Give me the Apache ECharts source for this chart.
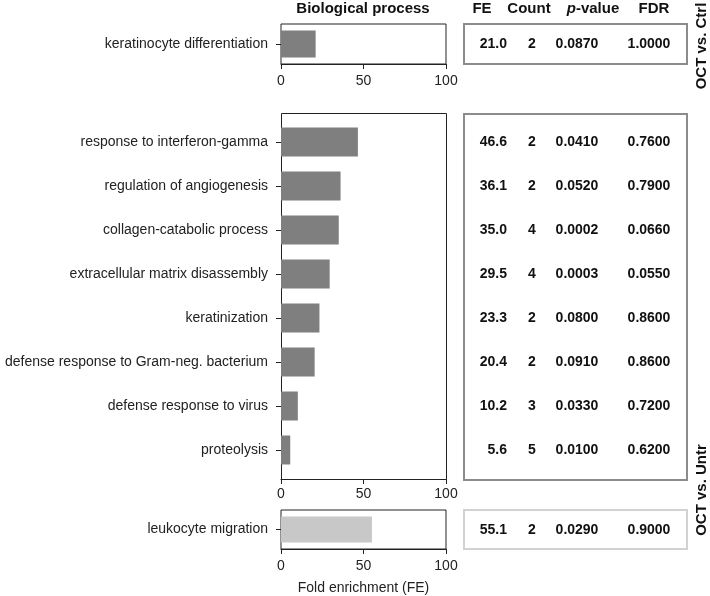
<!DOCTYPE html>
<html><head><meta charset="utf-8">
<script src="https://cdn.jsdelivr.net/npm/echarts@6/dist/echarts.min.js"></script>
<style>html,body{margin:0;padding:0;background:#fff}#c{width:710px;height:596px}</style>
</head><body><div id="c"></div>
<script>
// ---- data ----
const ctrlCats = ['keratinocyte differentiation'];
const ctrlFE = [21.0];
const ctrlCount = [2];
const ctrlP = ['0.0870'];
const ctrlFDR = ['1.0000'];

const untrCats = ['response to interferon-gamma','regulation of angiogenesis','collagen-catabolic process','extracellular matrix disassembly','keratinization','defense response to Gram-neg. bacterium','defense response to virus','proteolysis'];
const untrFE = [46.6, 36.1, 35.0, 29.5, 23.3, 20.4, 10.2, 5.6];
const untrCount = [2, 2, 4, 4, 2, 2, 3, 5];
const untrP = ['0.0410','0.0520','0.0002','0.0003','0.0800','0.0910','0.0330','0.0100'];
const untrFDR = ['0.7600','0.7900','0.0660','0.0550','0.8600','0.8600','0.7200','0.6200'];

const migCats = ['leukocyte migration'];
const migFE = [55.1];
const migCount = [2];
const migP = ['0.0290'];
const migFDR = ['0.9000'];

const xTicks = [0, 50, 100];
const colHeaders = ['FE', 'Count', 'p-value', 'FDR'];
const groupLabels = ['OCT vs. Ctrl', 'OCT vs. Untr'];
const panelTitle = 'Biological process';
const xTitle = 'Fold enrichment (FE)';

// ---- chart ----
const FONT = '"Liberation Sans", Arial, Helvetica, sans-serif';
const chart = echarts.init(document.getElementById('c'), null, {renderer: 'canvas'});

const grids = [
  {left: 281, top: 24, width: 165, height: 40, show: true, borderColor: '#222', borderWidth: 1},
  {left: 281, top: 120, width: 165, height: 352},
  {left: 281, top: 510, width: 165, height: 39, show: true, borderColor: '#222', borderWidth: 1}
];
const cats = [ctrlCats, untrCats, migCats];
const fes = [ctrlFE, untrFE, migFE];
const barW = [27, 29, 26];
const barColors = ['#7f7f7f', '#7f7f7f', '#c8c8c8'];

function xAx(i) {
  const a = {
    type: 'value', gridIndex: i, min: xTicks[0], max: xTicks[xTicks.length - 1],
    interval: xTicks[1] - xTicks[0],
    axisLine: {show: true, lineStyle: {color: '#222', width: 1}},
    axisTick: {show: true, length: 5, lineStyle: {color: '#222'}},
    axisLabel: {fontSize: 14, color: '#222', margin: i === 1 ? 8 : 10, fontFamily: FONT},
    splitLine: {show: false}
  };
  if (i === 1) a.offset = 7;
  if (i === 2) {
    a.name = xTitle; a.nameLocation = 'middle'; a.nameGap = 32;
    a.nameTextStyle = {fontSize: 14, color: '#222', fontFamily: FONT};
  }
  return a;
}
function yAx(i) {
  return {
    type: 'category', gridIndex: i, data: cats[i], inverse: true,
    axisLine: {show: false},
    axisTick: {show: true, alignWithLabel: true, length: 5, lineStyle: {color: '#222'}},
    axisLabel: {fontSize: 14, color: '#222', margin: 13, fontFamily: FONT},
    splitLine: {show: false}
  };
}

chart.setOption({
  animation: false,
  textStyle: {fontFamily: FONT},
  grid: grids,
  xAxis: [0, 1, 2].map(xAx),
  yAxis: [0, 1, 2].map(yAx),
  series: [0, 1, 2].map(i => ({
    type: 'bar', xAxisIndex: i, yAxisIndex: i, data: fes[i], barWidth: barW[i],
    itemStyle: {color: barColors[i]}, silent: true
  }))
});

// ---- table & decorations ----
const g = [];
// middle bar-panel frame
g.push({type: 'rect', shape: {x: 281.5, y: 113.5, width: 165, height: 366}, style: {fill: 'none', stroke: '#222', lineWidth: 1}, silent: true});
// table boxes
g.push({type: 'rect', shape: {x: 464, y: 24, width: 223, height: 40}, style: {fill: 'none', stroke: '#8c8c8c', lineWidth: 2}, silent: true});
g.push({type: 'rect', shape: {x: 464, y: 114, width: 223, height: 366}, style: {fill: 'none', stroke: '#8c8c8c', lineWidth: 2}, silent: true});
g.push({type: 'rect', shape: {x: 464, y: 510, width: 223, height: 39}, style: {fill: 'none', stroke: '#d2d2d2', lineWidth: 2}, silent: true});

const hdr = {fontSize: 15, fontWeight: 'bold', fill: '#111', fontFamily: FONT, align: 'center', verticalAlign: 'middle'};
g.push({type: 'text', x: 363, y: 9, style: Object.assign({}, hdr, {text: panelTitle})});
const colX = [482, 529, 593, 654];
colHeaders.forEach((h, k) => {
  const st = Object.assign({}, hdr);
  if (h === 'p-value') {
    st.text = '{i|p}-value';
    st.rich = {i: {fontStyle: 'italic', fontWeight: 'bold', fontSize: 15, fontFamily: FONT, fill: '#111'}};
  } else st.text = h;
  g.push({type: 'text', x: colX[k], y: 9, style: st});
});

// rotated group labels
g.push({type: 'text', x: 702, y: 46, rotation: Math.PI / 2, style: Object.assign({}, hdr, {text: groupLabels[0]})});
g.push({type: 'text', x: 702, y: 490, rotation: Math.PI / 2, style: Object.assign({}, hdr, {text: groupLabels[1]})});

// table values, y through the category axes
const tables = [
  [ctrlFE, ctrlCount, ctrlP, ctrlFDR],
  [untrFE, untrCount, untrP, untrFDR],
  [migFE, migCount, migP, migFDR]
];
const valX = [507, 532, 577, 649];
const valAlign = ['right', 'center', 'center', 'center'];
tables.forEach((t, i) => {
  t[0].forEach((fe, r) => {
    const y = chart.convertToPixel({yAxisIndex: i}, r);
    const vals = [fe.toFixed(1), String(t[1][r]), t[2][r], t[3][r]];
    vals.forEach((v, k) => {
      g.push({type: 'text', x: valX[k], y: y + 0.5, silent: true,
        style: {text: v, fontSize: 14, fontWeight: 'bold', fill: '#111', fontFamily: FONT, align: valAlign[k], verticalAlign: 'middle'}});
    });
  });
});

chart.setOption({graphic: g});
</script></body></html>
